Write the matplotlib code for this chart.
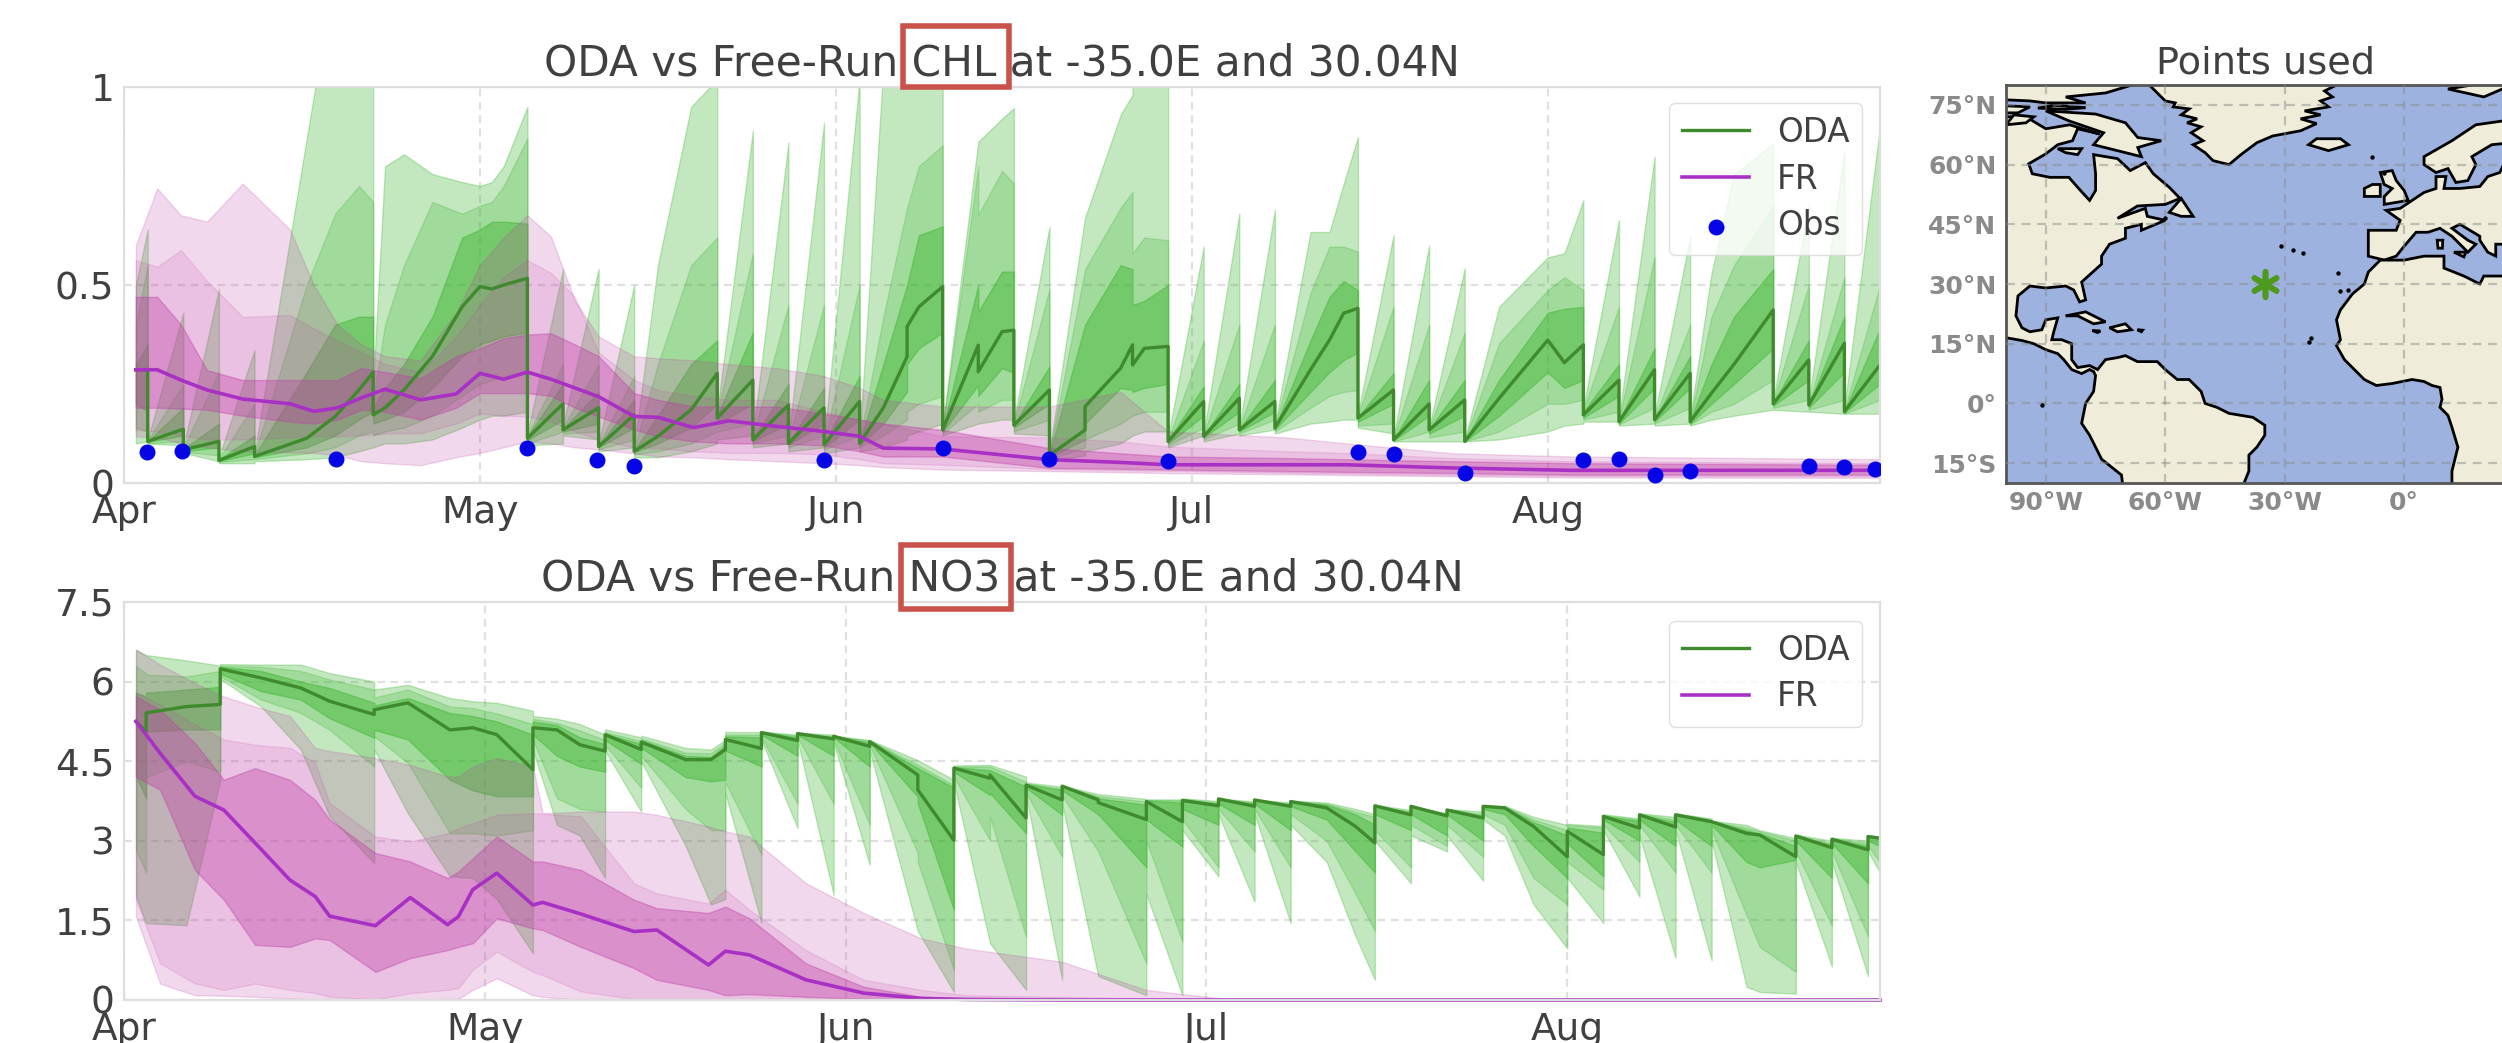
import matplotlib
matplotlib.use("Agg")
import matplotlib.pyplot as plt
from matplotlib.patches import Polygon, Rectangle

W, H = 2502, 1043

# ---------- CHL panel ----------
chl_days = [1,2,2,5,5,8,8,11,11,15.4,
 17.8,19.8,21,21,22,23.6,26,28.5,30,31,
 32,34,34,37,37,40,40,43,43,45,
 47.8,50,50,53,53,56,56,59,59,62,
 62,64,66,66,67,69,69,72,72,74,
 75,75,78,78,81,81,84,85,85,86,
 88,88,91,91,94,94,97,97,100,101.6,
 102.8,104,104,107,107,110,110,113,113,115.9,
 120,121.4,123,123,126,126,129,129,132,132,
 133.8,135.7,139,139,142,142,145,145,148]
chl_oda_hi3 = [.50,.64,.11,.43,.09,.49,.065,.336,.075,.87,
 1.3,1.3,1.3,.25,.80,.83,.78,.76,.75,.76,
 .80,.95,.125,.54,.145,.54,.10,.50,.09,.55,
 .95,1.02,.18,.89,.12,.86,.11,.91,.105,1.02,
 .11,1.05,1.2,1.2,1.3,1.3,.145,.862,.862,.92,
 .947,.155,.647,.08,.67,.67,.93,.98,1.02,1.1,
 1.2,.115,.597,.125,.68,.14,.69,.145,.634,.634,
 .756,.874,.175,.626,.115,.60,.14,.542,.11,.445,
 .57,.58,.714,.19,.664,.165,.824,.17,.622,.165,
 .53,.78,.857,.21,.70,.205,.84,.19,.90]
chl_oda_hi2 = [.40,.55,.108,.25,.088,.28,.062,.20,.072,.50,
 .68,.75,.71,.21,.40,.55,.71,.68,.70,.71,
 .75,.87,.12,.30,.14,.30,.097,.27,.087,.30,
 .55,.62,.175,.58,.117,.45,.107,.45,.103,.50,
 .107,.42,.695,.695,.80,.853,.14,.80,.677,.788,
 .757,.15,.49,.075,.54,.54,.695,.735,.58,.62,
 .613,.11,.36,.122,.40,.138,.40,.143,.48,.597,
 .597,.584,.17,.445,.113,.40,.138,.38,.108,.353,
 .487,.52,.487,.185,.445,.16,.571,.165,.40,.16,
 .42,.55,.70,.205,.50,.20,.52,.185,.50]
chl_oda_hi1 = [.30,.35,.106,.19,.086,.15,.06,.12,.07,.28,
 .40,.42,.42,.19,.24,.30,.42,.62,.64,.66,
 .66,.655,.118,.25,.137,.23,.095,.21,.083,.17,
 .30,.36,.17,.38,.113,.25,.103,.24,.10,.27,
 .103,.30,.50,.50,.626,.648,.137,.50,.433,.534,
 .534,.148,.294,.072,.40,.40,.55,.54,.45,.46,
 .50,.108,.244,.12,.25,.136,.26,.141,.36,.47,
 .51,.487,.167,.277,.11,.26,.136,.26,.107,.26,
 .43,.44,.445,.18,.30,.158,.34,.162,.32,.157,
 .30,.42,.54,.203,.36,.198,.42,.182,.39]
chl_oda_med = [.286,.286,.105,.136,.084,.105,.057,.092,.067,.113,
 .168,.235,.28,.172,.19,.235,.32,.445,.496,.49,
 .50,.517,.113,.20,.134,.19,.092,.172,.08,.118,
 .185,.277,.164,.26,.109,.197,.10,.19,.097,.206,
 .10,.19,.319,.395,.445,.496,.134,.348,.281,.382,
 .386,.146,.235,.07,.134,.193,.29,.349,.298,.34,
 .345,.105,.206,.118,.214,.134,.206,.139,.286,.361,
 .429,.441,.164,.235,.109,.20,.134,.21,.105,.214,
 .361,.304,.349,.172,.26,.155,.286,.16,.277,.155,
 .227,.30,.437,.20,.311,.197,.353,.18,.298]
chl_oda_lo1 = [.20,.18,.104,.12,.08,.09,.055,.075,.065,.09,
 .12,.16,.18,.15,.16,.18,.24,.32,.35,.36,
 .37,.38,.108,.16,.13,.15,.09,.14,.078,.10,
 .14,.20,.15,.20,.105,.15,.097,.15,.09,.16,
 .095,.15,.23,.30,.34,.38,.13,.247,.22,.29,
 .278,.14,.20,.065,.11,.15,.24,.235,.23,.24,
 .25,.10,.17,.115,.18,.13,.18,.135,.23,.28,
 .31,.33,.155,.20,.107,.17,.125,.17,.105,.17,
 .28,.24,.26,.165,.22,.15,.24,.155,.24,.15,
 .20,.25,.34,.195,.26,.19,.28,.178,.25]
chl_oda_lo2 = [.14,.13,.10,.105,.078,.07,.053,.06,.06,.075,
 .09,.12,.13,.12,.13,.14,.17,.22,.25,.26,
 .27,.28,.10,.13,.125,.13,.085,.11,.072,.08,
 .10,.13,.13,.15,.10,.12,.09,.12,.085,.12,
 .09,.12,.16,.18,.20,.22,.125,.20,.18,.21,
 .21,.13,.16,.06,.09,.11,.15,.17,.17,.18,
 .18,.095,.14,.11,.15,.125,.16,.13,.19,.22,
 .23,.235,.145,.15,.105,.13,.115,.13,.105,.13,
 .20,.20,.21,.16,.18,.148,.19,.15,.19,.148,
 .18,.20,.26,.19,.21,.185,.21,.175,.21]
chl_oda_lo3 = [.10,.105,.10,.095,.076,.055,.05,.05,.055,.06,
 .065,.08,.09,.09,.10,.10,.11,.14,.16,.17,
 .17,.18,.095,.10,.12,.11,.08,.09,.065,.065,
 .08,.10,.11,.12,.09,.10,.08,.09,.075,.09,
 .08,.09,.11,.12,.13,.15,.12,.15,.15,.16,
 .16,.125,.12,.055,.07,.08,.10,.12,.12,.13,
 .13,.09,.12,.105,.125,.12,.135,.125,.15,.155,
 .16,.16,.14,.125,.105,.105,.105,.105,.105,.11,
 .13,.145,.15,.155,.155,.145,.15,.145,.15,.145,
 .16,.17,.185,.185,.18,.18,.175,.175,.175]

chl_fr_days = [1,2.8,4.8,7,10,14,16,18,20,22,25,28,30,32,34,36,38,40,43,45,48,51,55,59,62,64,69,78,84,88,98,103,112,122,148]
chl_fr_med = [.286,.286,.26,.235,.212,.20,.181,.19,.215,.237,.21,.225,.277,.262,.28,.262,.24,.218,.168,.166,.14,.157,.143,.13,.118,.088,.086,.059,.052,.046,.046,.046,.038,.032,.032]
chl_fr_hi1 = [.47,.47,.40,.285,.26,.26,.26,.26,.29,.28,.265,.32,.34,.365,.375,.378,.35,.32,.227,.21,.193,.193,.193,.175,.16,.15,.134,.088,.075,.067,.063,.06,.055,.05,.046]
chl_fr_lo1 = [.19,.19,.188,.185,.17,.155,.15,.16,.185,.18,.16,.19,.227,.227,.227,.22,.19,.168,.135,.118,.105,.10,.10,.095,.08,.067,.067,.038,.036,.034,.03,.028,.025,.021,.021]
chl_fr_hi2 = [.563,.546,.588,.51,.42,.424,.39,.36,.33,.30,.28,.37,.45,.52,.563,.53,.47,.33,.26,.235,.22,.21,.21,.18,.16,.15,.118,.115,.105,.092,.08,.076,.063,.055,.05]
chl_fr_lo2 = [.134,.13,.12,.11,.11,.115,.118,.118,.12,.125,.126,.15,.176,.17,.168,.155,.13,.11,.09,.088,.08,.076,.076,.072,.06,.05,.046,.035,.032,.031,.026,.024,.02,.018,.017]
chl_fr_hi3 = [.60,.744,.676,.66,.756,.64,.50,.40,.35,.32,.31,.43,.55,.62,.676,.622,.46,.37,.32,.315,.31,.30,.29,.27,.24,.21,.193,.193,.23,.13,.115,.10,.075,.067,.06]
chl_fr_lo3 = [.118,.115,.10,.09,.08,.077,.076,.07,.055,.05,.045,.065,.076,.09,.105,.10,.09,.085,.075,.067,.065,.06,.055,.05,.045,.04,.034,.03,.027,.025,.022,.02,.017,.014,.013]

obs_days = [1.9,4.9,17.9,34,39.9,43,59,69,78,88,104,107,113,123,126,129,132,142,145,147.6]
obs_vals = [.078,.08,.06,.088,.059,.044,.057,.088,.06,.055,.078,.073,.025,.059,.06,.019,.03,.044,.04,.036]

# ---------- NO3 panel ----------
no3_days = [1,1.84,1.84,5.2,8,8,11.4,14.7,17.1,20.8,
 20.8,23.6,27.1,29,31,34,34,36,37.9,40,
 40,43,43,46.7,48.8,50,50,53,53,56,
 56,59,59,62,62,66,66,69,69,72,
 72,75,75,78,78,81,81,85,85,88,
 88,91,91,94,94,97,97,100,102.4,104,
 104,107,107,110,110,113,113,114.8,117.2,120,
 120,123,123,126,126,129,129,132,132,134.9,
 136,139,139,142,142,145,145,146]
no3_oda_hi3 = [6.6,6.5,6.5,6.4,6.3,6.33,6.32,6.32,6.16,6.0,
 5.85,5.94,5.69,5.63,5.6,5.45,5.35,5.3,5.2,5.0,
 5.1,4.95,4.98,4.75,4.72,4.9,5.05,5.05,5.06,5.0,
 5.04,5.0,4.98,4.9,4.9,4.52,4.52,4.15,4.42,4.43,
 4.43,4.21,4.1,4.02,4.04,3.88,3.88,3.79,3.78,3.78,
 3.8,3.75,3.8,3.74,3.78,3.72,3.76,3.72,3.6,3.5,
 3.68,3.58,3.66,3.52,3.6,3.55,3.67,3.66,3.45,3.3,
 3.32,3.28,3.5,3.42,3.52,3.45,3.52,3.42,3.38,3.3,
 3.2,3.05,3.12,3.0,3.06,3.0,3.1,3.08]
no3_oda_hi2 = [6.29,6.16,6.13,6.1,6.2,6.3,6.28,6.2,6.04,5.85,
 5.7,5.85,5.53,5.5,5.4,5.2,5.3,5.22,5.08,4.9,
 5.05,4.88,4.93,4.66,4.65,4.85,5.0,5.0,5.05,4.98,
 5.03,4.97,4.98,4.88,4.89,4.43,4.43,4.05,4.4,4.4,
 4.4,4.11,4.08,3.98,4.04,3.84,3.84,3.74,3.77,3.76,
 3.79,3.72,3.8,3.72,3.78,3.7,3.75,3.7,3.55,3.45,
 3.67,3.55,3.66,3.5,3.6,3.5,3.66,3.65,3.4,3.2,
 3.3,3.25,3.48,3.4,3.51,3.4,3.51,3.4,3.37,3.25,
 3.18,3.0,3.11,2.95,3.05,2.95,3.09,3.07]
no3_oda_hi1 = [5.79,5.72,5.79,5.85,5.9,6.28,6.2,6.0,5.88,5.6,
 5.55,5.69,5.41,5.35,5.25,5.0,5.25,5.18,4.95,4.82,
 5.02,4.82,4.9,4.6,4.58,4.8,4.97,4.95,5.05,4.95,
 5.03,4.95,4.97,4.85,4.88,4.37,4.37,4.0,4.39,4.33,
 4.33,4.02,4.07,3.96,4.03,3.82,3.8,3.68,3.76,3.72,
 3.78,3.7,3.79,3.7,3.77,3.68,3.75,3.68,3.5,3.3,
 3.67,3.53,3.65,3.48,3.59,3.47,3.66,3.64,3.35,3.1,
 3.25,3.15,3.47,3.37,3.5,3.35,3.5,3.38,3.37,3.2,
 3.14,2.9,3.1,2.92,3.04,2.9,3.08,3.06]
no3_oda_med = [5.25,5.06,5.41,5.53,5.57,6.24,6.07,5.88,5.63,5.38,
 5.47,5.6,5.09,5.13,5.0,4.34,5.13,5.09,4.81,4.69,
 5.0,4.72,4.86,4.53,4.53,4.72,4.91,4.74,5.04,4.89,
 5.02,4.92,4.97,4.78,4.87,4.24,3.96,3.01,4.37,4.18,
 4.24,3.43,4.05,3.77,4.03,3.77,3.72,3.4,3.74,3.36,
 3.76,3.66,3.79,3.65,3.77,3.65,3.74,3.62,3.27,2.96,
 3.66,3.49,3.65,3.47,3.58,3.43,3.65,3.62,3.27,2.7,
 3.18,2.74,3.46,3.24,3.49,3.26,3.49,3.36,3.36,3.14,
 3.11,2.7,3.09,2.87,3.03,2.83,3.08,3.05]
no3_oda_lo1 = [4.21,3.8,5.06,5.1,5.1,6.15,5.82,5.66,5.31,4.94,
 5.09,4.91,4.15,3.95,3.84,3.84,5.0,4.6,4.4,4.3,
 4.9,4.45,4.75,4.2,4.12,4.15,4.7,4.4,5.0,4.6,
 5.0,4.6,4.95,4.4,4.85,3.83,3.7,1.7,4.3,3.86,
 3.9,3.14,4.0,3.49,3.95,3.5,3.5,2.5,3.4,2.89,
 3.6,3.3,3.7,3.3,3.7,3.2,3.65,3.4,2.8,2.4,
 3.5,3.2,3.5,3.1,3.5,3.0,3.6,3.5,2.9,2.3,
 2.95,2.33,3.4,3.0,3.4,2.9,3.4,2.9,3.3,2.6,
 2.5,2.64,3.0,2.3,2.95,2.2,3.0,2.9]
no3_oda_lo2 = [2.83,2.4,4.2,4.5,4.3,6.1,5.66,5.41,5.09,4.4,
 4.97,4.47,3.14,3.14,3.1,3.2,4.9,3.8,3.6,3.55,
 4.8,4.0,4.6,3.6,3.2,3.2,4.1,2.74,4.95,3.7,
 4.95,3.7,4.9,3.3,4.8,2.77,2.6,.57,4.2,3.01,
 3.45,1.19,3.9,2.7,3.85,2.8,2.8,.69,3.0,1.1,
 3.4,2.5,3.6,2.8,3.6,2.5,3.5,3.0,2.0,1.3,
 3.2,2.5,3.3,2.9,3.3,2.7,3.5,3.3,2.3,1.8,
 2.6,2.08,3.3,2.6,3.3,2.4,3.3,2.4,3.2,1.6,
 1.0,.53,2.8,1.4,2.8,1.2,2.9,2.6]
no3_oda_lo3 = [1.95,1.45,1.45,1.41,4.15,6.05,5.53,4.72,3.46,2.58,
 4.72,3.52,2.33,2.3,1.9,.88,4.7,3.3,3.1,2.3,
 4.7,3.55,4.5,2.9,1.8,1.9,3.9,1.45,4.9,3.24,
 4.9,1.98,4.85,2.55,4.7,1.3,1.3,.15,4.1,1.07,
 1.07,.19,3.85,.38,3.7,.45,.45,.09,2.0,.09,
 3.2,2.33,3.5,1.85,3.5,1.45,3.3,2.6,1.2,.38,
 3.0,2.2,3.1,2.8,3.1,2.25,3.4,3.1,1.8,.97,
 2.3,1.45,3.2,1.95,3.1,.79,3.2,.75,3.0,.25,
 .15,.12,2.6,.63,2.6,.45,2.8,2.4]

no3_fr_days = [1,3,5.9,8.3,10.9,13.8,15.9,17.1,20.9,23.8,26.9,27.8,29,31,34,34.8,38,42.4,44.3,48.6,50,52,56.7,61.5,66.3,70,78,85,92,146]
no3_fr_med = [5.25,4.65,3.84,3.58,2.96,2.26,1.95,1.58,1.4,1.93,1.42,1.57,2.08,2.39,1.79,1.84,1.62,1.29,1.32,.66,.92,.85,.38,.13,.03,.01,0,0,0,0]
no3_fr_hi3 = [6.6,6.32,5.97,5.72,5.53,5.35,4.75,4.69,4.56,4.43,4.21,4.21,4.4,4.56,4.4,3.52,3.55,3.55,3.49,3.27,3.18,3.08,2.2,1.64,1.16,.97,.72,.19,.01,0]
no3_fr_hi2 = [5.79,5.57,5.19,4.91,4.81,4.75,4.47,3.71,3.08,2.99,3.14,3.24,3.33,3.49,3.52,3.51,3.46,2.2,2.01,1.82,2.08,1.7,.94,.38,.19,.09,.06,.03,.01,0]
no3_fr_hi1 = [5.72,5.47,4.84,4.15,4.37,4.15,3.77,3.4,2.77,2.61,2.3,2.42,2.67,3.08,2.61,2.61,2.45,1.89,1.73,1.64,1.76,1.54,.69,.25,.06,.03,.02,.01,.005,0]
no3_fr_lo1 = [4.21,3.96,2.45,1.89,1.04,1.0,1.16,1.13,.53,.79,.94,1.0,1.07,1.54,1.35,1.32,1.0,.6,.38,.19,.09,.11,.06,.02,0,0,0,0,0,0]
no3_fr_lo2 = [1.89,.69,.31,.19,.31,.19,.13,.06,.01,.13,.19,.22,.57,.91,.53,.47,.16,.02,0,0,0,0,0,0,0,0,0,0,0,0]
no3_fr_lo3 = [1.57,.31,.09,.08,.06,.03,.01,.01,0,.01,.02,.02,.19,.41,.09,.06,0,0,0,0,0,0,0,0,0,0,0,0,0,0]

month_labels = ["Apr", "May", "Jun", "Jul", "Aug"]
month_ticks = [0, 30, 60, 90, 120]

# ---------- map outlines, (lon, lat) ----------
land_americas = [(-105,17.5),(-100,16.5),(-96,15.8),(-93,15),(-90,13.5),(-87,12.5),(-85.5,11),(-83.5,8.5),(-81,7.5),(-79,8.5),(-78,8),(-77.5,7),(-78,3),(-80,0),(-81,-5),(-79,-8),(-76,-14),(-71,-18),(-70.5,-22),(-41,-22),(-39,-17),(-39,-13),(-37,-11),(-35,-8),(-35,-5.5),(-38,-3.5),(-41,-3),(-44,-2.5),(-47,-1),(-50,0),(-51,3),(-54,6),(-57,6),(-60,8.5),(-62,10.5),(-67,10.5),(-70,12),(-72,11.5),(-75,11),(-77,8.5),(-79,9.5),(-82,9),(-83.5,11),(-83.5,15),(-86,16),(-88.5,16),(-88,18),(-87,21.5),(-90,21),(-91,18.5),(-94,18),(-96,19),(-97.5,22),(-97,27),(-94,29.5),(-90,29),(-85,29.5),(-83,28.5),(-81.5,25.5),(-80,26),(-81,30.5),(-76,35),(-76,37),(-74,40),(-70,41.5),(-70,44),(-66,45),(-66,43.5),(-60,46),(-64.5,47),(-65,49),(-72,46.5),(-67,49.6),(-60,50),(-56.3,51.5),(-59,54.3),(-63,57.7),(-65,60.5),(-68.8,58.5),(-72,61.5),(-78,62.5),(-77.5,57.7),(-77.5,53.5),(-79,51),(-81.3,53.5),(-84.2,56.8),(-89,56.8),(-93.4,57.7),(-94.3,60.2),(-90,62.7),(-87,65),(-83.3,66),(-82,69),(-76.5,67.7),(-84,70),(-90,69),(-95,72),(-105,72)]
land_baffin = [(-77.5,72.7),(-70,70.5),(-66.9,66.8),(-61,66),(-66.9,64.3),(-66,62),(-72,63.5),(-78,65),(-75.5,68),(-84.2,71),(-90,73.5)]
land_arctic1 = [(-105,76.5),(-94,76),(-90,75.5),(-80,75.5),(-85,77),(-75,78),(-65,81),(-105,81)]
land_arctic2 = [(-105,73),(-97,73),(-94,74.5),(-105,75)]
land_arctic3 = [(-92,74.2),(-85,73.9),(-80,74.3),(-88,74.9)]
land_arctic4 = [(-100,70),(-95,70.5),(-93,72),(-98,72.5)]
land_southampton = [(-87,64),(-81,64),(-82,62.5),(-85,63)]
land_greenland = [(-65,81),(-60,76),(-57.5,75.5),(-58,74.5),(-54,74),(-56,72.5),(-52,71.5),(-54.5,70.5),(-51,69.5),(-53.5,68),(-50.5,66),(-53,65),(-50,63),(-48,61),(-44,60),(-41,62.5),(-37,65.5),(-33,67.2),(-26,68.5),(-22,70.3),(-26,71.5),(-21,72.5),(-25,73.5),(-19,74.5),(-21,76),(-18,77),(-20,78.5),(-17,80),(-16,81)]
land_iceland = [(-24,65),(-22,66.5),(-16,66.5),(-14,65),(-19,63.5)]
land_newfoundland = [(-59,48),(-56,51.5),(-53,47),(-56,47)]
land_cuba = [(-85,22),(-80,23),(-75,20.5),(-78,20),(-82,22)]
land_hispaniola = [(-74,19),(-70,20),(-68.5,18.5),(-72,18)]
land_jamaica = [(-78.3,18.3),(-76.3,18.2),(-77,17.8)]
land_uk = [(-5,50),(1,51),(0,53.5),(-2,56),(-3,58.5),(-6,58),(-5,55),(-3,54),(-5,52)]
land_ireland = [(-10,52),(-6,52),(-6,55),(-8,55),(-10,54)]
land_europe = [(-9,37),(-9,43.5),(-2,43.5),(-1,46),(-4.5,48.5),(-1,49),(2,51),(5,53),(8,54),(8,57),(10.5,57),(10,54),(14,54),(19,54.5),(21,57),(24,58),(25,60),(32,60),(32,40),(25,40),(23,40),(23,37),(21,38),(19,41),(19,42),(14,45),(12,44),(16,41),(18,40),(16,38),(12,42),(9,44),(6,43),(3,43),(0,39.5),(-2,37),(-5,36)]
land_scandinavia = [(5,60),(5,62),(12,66),(18,70),(25,71),(32,70),(32,66),(22,65),(17,62),(18,60),(16,56),(13,55.5),(11,59),(8,58)]
land_svalbard = [(11,79),(20,80.5),(27,80),(20,77)]
land_africa = [(-6,36),(-9,33),(-10,30),(-13,27.5),(-16,23.5),(-17,21),(-16,16),(-17,14.5),(-15,11),(-13,9),(-10,6),(-7,4.5),(-3,5),(2,6),(5,5.5),(7,4.5),(9,4),(9.5,1),(9,-1),(11,-3),(12,-6),(13.5,-11),(12,-17),(12,-22),(32,-22),(32,32),(20,32),(19,30),(15,32),(10,34),(10,37),(5,37),(0,36)]
land_sicily = [(12.5,38),(15.5,38),(15,36.8)]
land_sardinia = [(8.3,41),(9.7,41),(9.6,39),(8.5,39)]
land_puerto = [(-67,18.5),(-65.7,18.4),(-66,18)]
islands = [(-28,38.5),(-25.5,37.8),(-31,39.5),(-16.5,32.7),(-16,28.2),(-14,28.5),(-24,15.5),(-23.5,16.5),(-91,-0.5),(-60,46.7),(-8,62),(-5,58)]
land_shapes = [land_americas, land_baffin, land_arctic1, land_arctic2, land_arctic3, land_arctic4, land_southampton,
               land_greenland, land_iceland, land_newfoundland, land_cuba, land_hispaniola, land_jamaica, land_uk,
               land_ireland, land_europe, land_scandinavia, land_svalbard, land_africa, land_sicily, land_sardinia, land_puerto]
map_lon_ticks = [-90, -60, -30, 0]
map_lon_labels = ["90°W", "60°W", "30°W", "0°"]
map_lat_ticks = [75, 60, 45, 30, 15, 0, -15]
map_lat_labels = ["75°N", "60°N", "45°N", "30°N", "15°N", "0°", "15°S"]
point_lon, point_lat = -35.0, 30.04


def px_axes(fig, x0, x1, ytop, ybot):
    return fig.add_axes([x0 / W, 1 - ybot / H, (x1 - x0) / W, (ybot - ytop) / H])


GREEN, PINK = (.2, .7, .15), (.75, .25, .65)
ODA_LINE, FR_LINE = "#3f8a2c", "#a930c4"
TXT = "#404040"
ODA_ALPHAS, FR_ALPHAS = (.29, .235, .405), (.2, .15, .38)


def bands(ax, x, edges, color, alphas):
    for (lo, hi), a in zip(edges, alphas):
        ax.fill_between(x, lo, hi, color=color, alpha=a, lw=1)


def panel(ax, ymax, yticks, ylabels, xmax, title):
    ax.set_xlim(0, xmax)
    ax.set_ylim(0, ymax)
    ax.set_yticks(yticks, ylabels)
    ax.set_xticks(month_ticks, month_labels)
    ax.grid(True, ls=(0, (3.5, 2.5)), color="#e0e0e0", lw=1.6)
    ax.set_axisbelow(True)
    for s in ax.spines.values():
        s.set_color("#dedede")
        s.set_linewidth(1.6)
    ax.tick_params(length=0, labelsize=27, labelcolor=TXT, pad=7)
    ax.tick_params(axis="x", pad=8.5)
    ax.set_title(title, fontsize=30.4, color=TXT, pad=8)


fig = plt.figure(figsize=(W / 100, H / 100), dpi=100, facecolor="white")
plt.rcParams["font.family"] = "DejaVu Sans"

a1 = px_axes(fig, 124, 1880, 87, 483)
bands(a1, chl_days, [(chl_oda_lo3, chl_oda_hi3), (chl_oda_lo2, chl_oda_hi2), (chl_oda_lo1, chl_oda_hi1)], GREEN, ODA_ALPHAS)
bands(a1, chl_fr_days, [(chl_fr_lo3, chl_fr_hi3), (chl_fr_lo2, chl_fr_hi2), (chl_fr_lo1, chl_fr_hi1)], PINK, FR_ALPHAS)
a1.plot(chl_days, chl_oda_med, color=ODA_LINE, lw=2.4, label="ODA")
a1.plot(chl_fr_days, chl_fr_med, color=FR_LINE, lw=2.6, label="FR")
a1.scatter(obs_days, obs_vals, s=110, color="#0505e6", label="Obs", zorder=5)
panel(a1, 1, [0, .5, 1], ["0", "0.5", "1"], 148, "ODA vs Free-Run CHL at -35.0E and 30.04N")

a2 = px_axes(fig, 124, 1880, 602, 1000)
bands(a2, no3_days, [(no3_oda_lo3, no3_oda_hi3), (no3_oda_lo2, no3_oda_hi2), (no3_oda_lo1, no3_oda_hi1)], GREEN, ODA_ALPHAS)
bands(a2, no3_fr_days, [(no3_fr_lo3, no3_fr_hi3), (no3_fr_lo2, no3_fr_hi2), (no3_fr_lo1, no3_fr_hi1)], PINK, FR_ALPHAS)
a2.plot(no3_days, no3_oda_med, color=ODA_LINE, lw=2.4, label="ODA")
a2.plot(no3_fr_days, no3_fr_med, color=FR_LINE, lw=2.6, label="FR", clip_on=False)
panel(a2, 7.5, [0, 1.5, 3, 4.5, 6, 7.5], ["0", "1.5", "3", "4.5", "6", "7.5"], 146, "ODA vs Free-Run NO3 at -35.0E and 30.04N")

for ax, top in ((a1, .96), (a2, .953)):
    ax.legend(loc="upper right", bbox_to_anchor=(.99, top), fontsize=23.5, frameon=True, framealpha=.8,
              edgecolor="#d8d8d8", labelcolor=TXT, borderaxespad=0, handlelength=2.05, handletextpad=.85, labelspacing=.42)

# map
m = px_axes(fig, 2006, 2526, 85, 483)
m.set_facecolor("#9db2df")
for shape in land_shapes:
    m.add_patch(Polygon(shape, closed=True, facecolor="#efedd9", edgecolor="black", lw=2, zorder=2))
m.scatter(*zip(*islands), s=10, color="black", lw=0, zorder=3)
m.set_xlim(-100, 30.6)
m.set_ylim(-20, 80)
m.set_xticks(map_lon_ticks, map_lon_labels)
m.set_yticks(map_lat_ticks, map_lat_labels)
m.grid(True, ls=(0, (4, 3)), color="#8c8c8c", alpha=.5, lw=1.6, zorder=4)
m.set_axisbelow(False)
m.tick_params(length=0, labelsize=18, labelcolor="#8a8a8a", pad=7)
m.tick_params(axis="x", pad=6)
for lab in m.get_xticklabels() + m.get_yticklabels():
    lab.set_fontweight("bold")
for s in m.spines.values():
    s.set_color("#555555")
    s.set_linewidth(2)
m.scatter([point_lon], [point_lat], marker=(6, 2, 0), s=340, color="#4d9a1e", lw=4, zorder=6)
m.set_title("Points used", fontsize=27.5, color=TXT, pad=8)

# red highlight boxes around the variable names
for x0, x1, y0, y1 in ((903, 1009, 26, 87), (901, 1011, 545, 609)):
    fig.add_artist(Rectangle((x0 / W, 1 - y1 / H), (x1 - x0) / W, (y1 - y0) / H, transform=fig.transFigure,
                             fill=False, edgecolor="#c9534b", lw=4))

fig.savefig("out.png", dpi=100)
